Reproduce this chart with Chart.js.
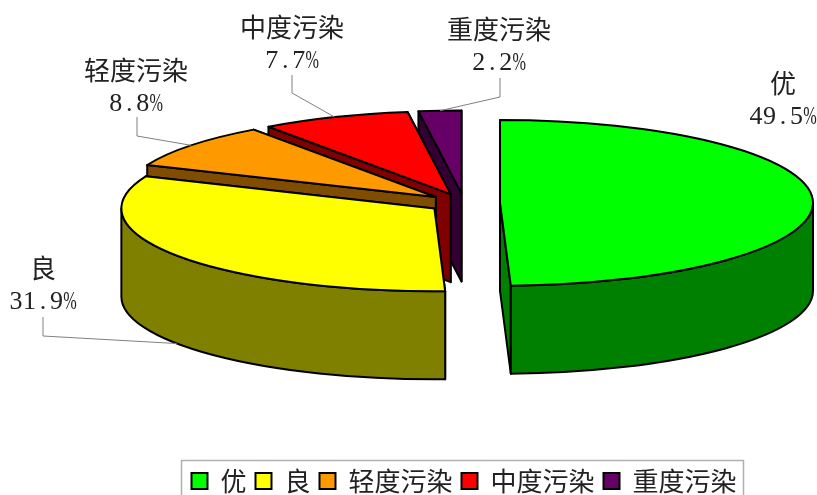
<!DOCTYPE html>
<html>
<head>
<meta charset="utf-8">
<style>
  html, body { margin: 0; padding: 0; background: #fff; overflow: hidden; }
</style>
<script src="https://cdn.jsdelivr.net/npm/chart.js@4"></script>
</head>
<body>
<canvas id="myChart" width="817" height="495"></canvas>
<script>
// Values
const categories = ['优', '良', '轻度污染', '中度污染', '重度污染'];
const shares = [49.5, 31.9, 8.8, 7.7, 2.2];
const shareLabels = ['49.5%', '31.9%', '8.8%', '7.7%', '2.2%'];
const topColors = ['#00FF00', '#FFFF00', '#FF9900', '#FF0000', '#660066'];
const wallColors = ['#008000', '#808000', '#804D00', '#800000', '#330033'];

// Label layout: text centre, and the elbow of the leader line (null = no leader)
const labelCentres = [[783, 83], [43, 268], [136, 70], [292, 27], [499, 29]];
const leaderElbows = [
    null,
    [[43, 317], [43, 336]],
    [[137, 117], [137, 136]],
    [[292, 75], [292, 93]],
    [[500, 78], [500, 97]],
];

const RADIUS = 313;
const TILT = 0.265; // vertical squash of the pie
const DEPTH = 88; // wall height
const CENTER_Y = 203;
const EXPLODE = 36; // how far each slice moves out from the centre

const INK = '#000';
const TEXT = '#222';
const LEADER = '#808080';

function apexOf(arc) {
    const mid = (arc.startAngle + arc.endAngle) / 2;
    return {
        x: arc.x + Math.cos(mid) * EXPLODE,
        y: CENTER_Y + Math.sin(mid) * EXPLODE * TILT,
    };
}

function rimPoint(apex, angle) {
    return {
        x: apex.x + Math.cos(angle) * RADIUS,
        y: apex.y + Math.sin(angle) * RADIUS * TILT,
    };
}

function drawCutFace(ctx, apex, angle, color) {
    const rim = rimPoint(apex, angle);
    ctx.beginPath();
    ctx.moveTo(apex.x, apex.y);
    ctx.lineTo(rim.x, rim.y);
    ctx.lineTo(rim.x, rim.y + DEPTH);
    ctx.lineTo(apex.x, apex.y + DEPTH);
    ctx.closePath();
    ctx.fillStyle = color;
    ctx.fill();
    ctx.stroke();
}

function drawOuterWall(ctx, apex, arc, color) {
    // only the part of the rim on the viewer's side has a visible wall
    const from = Math.max(arc.startAngle, 0);
    const to = Math.min(arc.endAngle, Math.PI);
    if (to <= from) return;
    ctx.beginPath();
    ctx.ellipse(apex.x, apex.y, RADIUS, RADIUS * TILT, 0, from, to);
    ctx.ellipse(apex.x, apex.y + DEPTH, RADIUS, RADIUS * TILT, 0, to, from, true);
    ctx.closePath();
    ctx.fillStyle = color;
    ctx.fill();
    ctx.stroke();
}

function drawSlice(ctx, arc, i) {
    const apex = apexOf(arc);
    ctx.strokeStyle = INK;
    ctx.lineWidth = 2;
    ctx.lineJoin = 'round';

    // the upper cut edge lies further back, so it goes first
    drawCutFace(ctx, apex, arc.endAngle, wallColors[i]);
    drawCutFace(ctx, apex, arc.startAngle, wallColors[i]);
    drawOuterWall(ctx, apex, arc, wallColors[i]);

    // the top face is the library's own arc, squashed into an ellipse
    ctx.save();
    ctx.translate(apex.x - arc.x, apex.y);
    ctx.scale(1, TILT);
    ctx.translate(0, -arc.y);
    arc.draw(ctx);
    ctx.restore();

    ctx.beginPath();
    ctx.moveTo(apex.x, apex.y);
    ctx.ellipse(apex.x, apex.y, RADIUS, RADIUS * TILT, 0, arc.startAngle, arc.endAngle);
    ctx.closePath();
    ctx.stroke();
}

// SimSun style percent text: every glyph sits in a half width cell
function drawShareText(ctx, text, cx, y) {
    const cell = 13.5;
    ctx.font = '26px "Liberation Serif"';
    let x = cx - (text.length * cell) / 2 + cell / 2;
    for (const ch of text) {
        ctx.fillText(ch, x, y, cell);
        x += cell;
    }
}

function drawCallouts(chart) {
    const ctx = chart.ctx;
    const arcs = chart.getDatasetMeta(0).data;
    ctx.save();
    arcs.forEach((arc, i) => {
        const elbow = leaderElbows[i];
        if (elbow) {
            const apex = apexOf(arc);
            const mid = (arc.startAngle + arc.endAngle) / 2;
            const rim = rimPoint(apex, mid);
            // a rim on the viewer's side is reached at the foot of its wall
            const endY = Math.sin(mid) > 0 ? rim.y + DEPTH : rim.y;
            ctx.beginPath();
            ctx.moveTo(elbow[0][0], elbow[0][1]);
            ctx.lineTo(elbow[1][0], elbow[1][1]);
            ctx.lineTo(rim.x, endY);
            ctx.strokeStyle = LEADER;
            ctx.lineWidth = 1;
            ctx.stroke();
        }
        const [cx, cy] = labelCentres[i];
        ctx.fillStyle = TEXT;
        ctx.textAlign = 'center';
        ctx.textBaseline = 'middle';
        ctx.font = '26px "Noto Sans CJK SC"';
        ctx.fillText(categories[i], cx, cy);
        drawShareText(ctx, shareLabels[i], cx, cy + 34);
    });
    ctx.restore();
}

function drawLegendFrame(chart) {
    const boxes = chart.legend.legendHitBoxes;
    const first = boxes[0];
    const last = boxes[boxes.length - 1];
    const ctx = chart.ctx;
    const left = first.left - 10;
    const right = last.left + last.width + 7;
    ctx.save();
    ctx.strokeStyle = '#b0b0b0';
    ctx.lineWidth = 1.5;
    // the bottom edge falls outside the picture
    ctx.strokeRect(left, 460.5, right - left, 50);
    ctx.restore();
}

const tiltedPie = {
    id: 'tiltedPie',
    beforeDatasetDraw(chart) {
        const arcs = chart.getDatasetMeta(0).data;
        // back slices first, so the nearer ones cover their walls
        for (let i = arcs.length - 1; i >= 0; i--) {
            drawSlice(chart.ctx, arcs[i], i);
        }
        return false;
    },
    afterDraw(chart) {
        drawCallouts(chart);
        drawLegendFrame(chart);
    },
};

new Chart(document.getElementById('myChart').getContext('2d'), {
    type: 'pie',
    data: {
        labels: categories,
        datasets: [{
            data: shares,
            backgroundColor: topColors,
            borderWidth: 0,
        }],
    },
    plugins: [tiltedPie],
    options: {
        responsive: false,
        animation: false,
        events: [],
        radius: RADIUS,
        layout: { padding: { left: 111, bottom: -9 } },
        plugins: {
            tooltip: { enabled: false },
            legend: {
                position: 'bottom',
                labels: {
                    boxWidth: 16,
                    boxHeight: 16,
                    padding: 9,
                    color: TEXT,
                    font: { family: '"Noto Sans CJK SC"', size: 26 },
                    generateLabels(chart) {
                        return Chart.overrides.doughnut.plugins.legend.labels
                            .generateLabels(chart)
                            .map(item => ({ ...item, strokeStyle: INK, lineWidth: 2 }));
                    },
                },
            },
        },
    },
});
</script>
</body>
</html>
